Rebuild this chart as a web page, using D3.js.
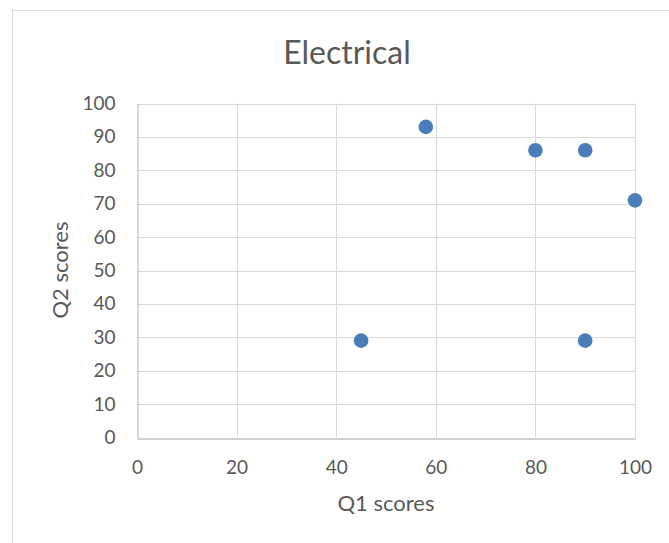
<!DOCTYPE html>
<html>
<head>
<meta charset="utf-8">
<script src="https://cdn.jsdelivr.net/npm/d3@7"></script>
<style>
  body { margin: 0; background: white; }
  text { font-family: Lato, "Noto Sans", sans-serif; fill: #595959; }
</style>
</head>
<body>
<div id="chart"></div>
<script>
// Q1 / Q2 scores for the Electrical group
var q1Scores = [58, 80, 90, 100, 45, 90]
var q2Scores = [93, 86, 86, 71, 29, 29]
var xTicks = [0, 20, 40, 60, 80, 100]
var yTicks = [0, 10, 20, 30, 40, 50, 60, 70, 80, 90, 100]

const width = 669
const height = 543

const svg = d3.select("#chart").append("svg")
    .attr("width", width)
    .attr("height", height)

// chart frame (runs off the right and bottom)
svg.append("rect")
    .attr("x", 12.5)
    .attr("y", 10.5)
    .attr("width", 700)
    .attr("height", 600)
    .style("fill", "white")
    .style("stroke", "#d9d9d9")

const x = d3.scaleLinear().domain([0, 100]).range([137, 635])
const y = d3.scaleLinear().domain([0, 100]).range([437.5, 103.5])

// gridlines
svg.append("g")
    .selectAll("line.h")
    .data(yTicks.filter(d => d > 0))
    .enter().append("line")
    .attr("x1", x(0)).attr("x2", x(100))
    .attr("y1", d => Math.round(y(d)) + 0.5)
    .attr("y2", d => Math.round(y(d)) + 0.5)
    .style("stroke", "#d9d9d9")

svg.append("g")
    .selectAll("line.v")
    .data(xTicks.filter(d => d > 0))
    .enter().append("line")
    .attr("x1", d => Math.round(x(d)) + 0.5)
    .attr("x2", d => Math.round(x(d)) + 0.5)
    .attr("y1", y(0)).attr("y2", y(100))
    .style("stroke", "#d9d9d9")

// axes
const xAxis = svg.append("g")
    .attr("transform", "translate(0," + (Math.round(y(0)) + 0.5) + ")")
    .call(d3.axisBottom(x).tickValues(xTicks).tickSize(0).tickPadding(22))
xAxis.select(".domain").style("stroke", "#bfbfbf").style("stroke-width", 1.3)
xAxis.selectAll("text").style("font-size", "19px").style("fill", "#595959")
    .style("font-family", "Lato, sans-serif")

const yAxis = svg.append("g")
    .attr("transform", "translate(" + (Math.round(x(0)) + 0.5) + ",0)")
    .call(d3.axisLeft(y).tickValues(yTicks).tickSize(0).tickPadding(22))
yAxis.select(".domain").style("stroke", "#bfbfbf").style("stroke-width", 1.3)
yAxis.selectAll("text").style("font-size", "19px").style("fill", "#595959")
    .style("font-family", "Lato, sans-serif")

// points
svg.append("g")
    .selectAll("circle")
    .data(q1Scores)
    .enter().append("circle")
    .attr("cx", d => x(d))
    .attr("cy", (d, i) => y(q2Scores[i]))
    .attr("r", 7.3)
    .style("fill", "#4a7ebb")

// title and axis titles
svg.append("text")
    .attr("x", 347)
    .attr("y", 64)
    .attr("text-anchor", "middle")
    .style("font-size", "32px")
    .text("Electrical")

svg.append("text")
    .attr("x", 386)
    .attr("y", 511)
    .attr("text-anchor", "middle")
    .style("font-size", "22px")
    .text("Q1 scores")

svg.append("text")
    .attr("transform", "translate(68,270) rotate(-90)")
    .attr("text-anchor", "middle")
    .style("font-size", "22px")
    .text("Q2 scores")
</script>
</body>
</html>
